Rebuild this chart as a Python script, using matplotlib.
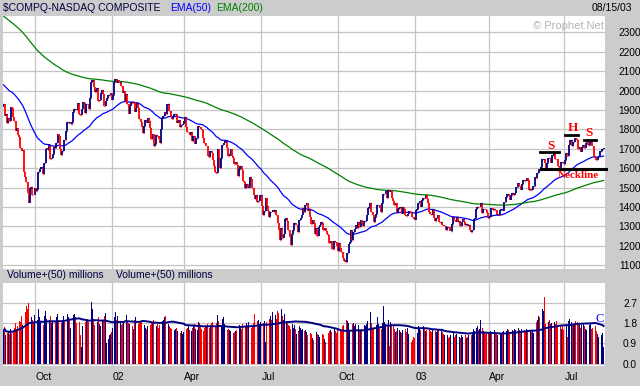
import numpy as np
import pandas as pd
import matplotlib.pyplot as plt

# daily closes of $COMPQ, 16 Aug 2001 - 15 Aug 2003 (one row per month)
closes = [
    1930, 1867, 1881, 1831, 1860, 1842, 1916, 1912, 1864, 1843, 1791, 1805,  # Aug 01
    1770, 1759, 1705, 1687, 1695, 1580, 1555, 1527, 1470, 1423, 1499, 1501, 1464, 1460, 1499,  # Sep
    1480, 1492, 1580, 1597, 1605, 1605, 1570, 1626, 1701, 1703, 1696, 1722, 1646, 1652, 1671,
    1708, 1704, 1731, 1775, 1768, 1699, 1668, 1690,  # Oct
    1746, 1745, 1793, 1836, 1837, 1827, 1828, 1840, 1892, 1903, 1900, 1898, 1934, 1880, 1875,
    1903, 1941, 1936, 1887, 1933, 1931,  # Nov
    1904, 1963, 2046, 2054, 2021, 1992, 2001, 2012, 1946, 1953, 1987, 2004, 1982, 1919, 1945,
    1960, 1977, 1977, 1987, 1950,  # Dec
    1979, 2044, 2059, 2037, 2055, 2044, 2047, 2022, 1990, 2000, 1945, 1984, 1930, 1882, 1922,
    1942, 1937, 1943, 1892, 1913, 1934,  # Jan 02
    1911, 1855, 1838, 1813, 1782, 1818, 1846, 1834, 1859, 1843, 1805, 1751, 1775, 1717, 1725,
    1769, 1767, 1751, 1731,  # Feb
    1802, 1859, 1867, 1890, 1881, 1929, 1929, 1897, 1862, 1855, 1868, 1877, 1880, 1832, 1842,
    1851, 1812, 1825, 1826, 1845,  # Mar
    1862, 1810, 1785, 1789, 1770, 1785, 1742, 1767, 1725, 1756, 1757, 1817, 1810, 1802, 1796,
    1758, 1730, 1713, 1713, 1664, 1657, 1688,  # Apr
    1677, 1644, 1613, 1578, 1573, 1697, 1650, 1600, 1652, 1719, 1730, 1741, 1741, 1702, 1664,
    1674, 1697, 1661, 1652, 1624, 1631, 1616,  # May
    1562, 1595, 1612, 1589, 1535, 1530, 1497, 1519, 1497, 1505, 1553, 1542, 1496, 1464, 1440,
    1460, 1424, 1429, 1460, 1463,  # Jun
    1403, 1357, 1380, 1448, 1405, 1381, 1346, 1374, 1373, 1382, 1375, 1383, 1356, 1319, 1282,
    1229, 1290, 1240, 1262, 1336, 1344, 1328,  # Jul
    1280, 1247, 1206, 1259, 1280, 1316, 1306, 1306, 1269, 1334, 1345, 1361, 1394, 1376, 1409,
    1422, 1381, 1392, 1347, 1314, 1335, 1315,  # Aug
    1263, 1292, 1252, 1295, 1305, 1320, 1315, 1280, 1292, 1275, 1259, 1253, 1216, 1222, 1184,
    1182, 1222, 1221, 1199, 1172,  # Sep
    1213, 1187, 1166, 1139, 1119, 1129, 1114, 1163, 1210, 1220, 1282, 1232, 1272, 1287, 1309,
    1292, 1320, 1299, 1331, 1315, 1300, 1326, 1330,  # Oct
    1360, 1396, 1401, 1419, 1376, 1359, 1320, 1349, 1362, 1411, 1412, 1393, 1374, 1419, 1467,
    1468, 1481, 1444, 1488, 1479,  # Nov
    1484, 1448, 1430, 1410, 1422, 1367, 1390, 1396, 1399, 1362, 1400, 1392, 1361, 1354, 1364,
    1381, 1373, 1367, 1348, 1339, 1335,  # Dec
    1384, 1388, 1421, 1431, 1401, 1438, 1448, 1446, 1461, 1439, 1423, 1376, 1365, 1360, 1389,
    1342, 1326, 1343, 1358, 1322, 1321,  # Jan 03
    1323, 1307, 1302, 1302, 1282, 1296, 1295, 1278, 1278, 1310, 1346, 1334, 1323, 1349, 1322,
    1328, 1303, 1323, 1337,  # Feb
    1320, 1305, 1314, 1303, 1305, 1279, 1271, 1279, 1340, 1341, 1392, 1400, 1398, 1402, 1421,
    1370, 1391, 1387, 1385, 1369, 1341,  # Mar
    1348, 1397, 1396, 1383, 1389, 1382, 1356, 1365, 1358, 1384, 1391, 1378, 1425, 1424, 1451,
    1466, 1458, 1434, 1462, 1472, 1464,  # Apr
    1472, 1502, 1504, 1523, 1506, 1489, 1520, 1541, 1540, 1535, 1551, 1538, 1490, 1492, 1490,
    1507, 1510, 1556, 1548, 1574, 1596,  # May
    1591, 1604, 1646, 1649, 1627, 1603, 1627, 1654, 1653, 1626, 1667, 1668, 1677, 1648, 1645,
    1611, 1606, 1602, 1634, 1625, 1623,  # Jun
    1640, 1678, 1663, 1720, 1747, 1747, 1715, 1733, 1754, 1753, 1747, 1698, 1708, 1682, 1707,
    1718, 1702, 1731, 1735, 1719, 1721, 1735,  # Jul
    1715, 1714, 1664, 1652, 1644, 1656, 1662, 1687, 1687, 1700, 1702,  # Aug 03
]
first_open = 1918

# daily volume, billions of shares
volumes = [
    1.45, 1.62, 1.25, 1.38, 1.42, 1.30, 1.55, 1.35, 1.48, 1.60, 1.80, 1.55,
    1.65, 1.90, 1.85, 2.10, 1.70, 2.45, 2.30, 2.55, 2.40, 2.70, 2.20, 2.05, 1.95, 1.85, 2.15,
    1.80, 1.95, 2.40, 2.05, 1.90, 1.60, 1.70, 2.10, 2.35, 2.00, 1.75, 1.95, 2.10, 1.80, 1.85,
    1.70, 1.90, 2.05, 2.20, 1.85, 1.75, 1.80, 1.95,
    2.10, 1.85, 1.90, 2.20, 2.05, 1.95, 1.60, 1.70, 2.15, 2.20, 2.05, 1.80, 1.95, 1.85, 1.25,
    0.75, 1.65, 1.90, 1.85, 1.95, 2.00,
    1.85, 2.20, 2.75, 2.40, 2.00, 1.70, 1.90, 1.85, 2.05, 1.75, 1.65, 1.95, 1.90, 2.10, 2.25,
    0.90, 1.10, 1.25, 1.30, 1.40,
    1.60, 2.05, 2.30, 1.95, 2.10, 2.00, 1.85, 1.70, 1.75, 1.80, 3.90, 2.15, 1.90, 1.80, 1.75,
    1.70, 1.65, 1.55, 1.95, 2.05, 1.85,
    1.75, 1.80, 1.85, 1.90, 1.95, 1.70, 1.60, 1.55, 1.65, 1.60, 1.70, 1.85, 1.80, 1.95, 1.70,
    1.65, 1.75, 1.60, 1.70,
    1.85, 1.90, 1.95, 2.05, 2.10, 2.15, 1.75, 1.65, 1.60, 1.55, 1.70, 1.50, 1.55, 1.60, 1.45,
    1.40, 1.35, 1.45, 1.30, 1.40,
    1.35, 1.55, 1.60, 1.70, 1.50, 1.45, 1.60, 1.70, 1.75, 1.55, 1.50, 1.85, 1.80, 1.70, 1.55,
    1.45, 1.60, 1.70, 1.65, 1.75, 1.60, 1.70,
    1.80, 1.85, 1.75, 1.65, 1.80, 2.15, 1.90, 1.70, 1.65, 2.00, 2.05, 1.75, 1.70, 1.50, 1.55,
    1.50, 1.45, 1.25, 1.35, 1.40, 1.45, 1.50,
    1.55, 1.70, 1.60, 1.55, 1.75, 1.50, 1.65, 1.80, 1.70, 1.85, 1.75, 1.60, 1.65, 1.80, 2.20,
    1.70, 1.90, 1.95, 1.75, 1.85,
    3.05, 1.80, 1.90, 0.95, 1.85, 1.80, 2.00, 2.10, 1.95, 2.30, 2.05, 2.15, 2.00, 2.35, 2.25,
    2.85, 2.40, 2.10, 1.95, 2.20, 1.90, 1.80,
    1.70, 1.65, 1.55, 1.75, 1.60, 1.70, 1.55, 1.30, 1.45, 1.65, 1.60, 1.50, 1.55, 1.45, 1.50,
    1.40, 1.25, 1.20, 1.35, 1.30, 1.15, 1.05,
    1.35, 1.40, 1.30, 1.25, 1.20, 1.35, 1.30, 1.25, 1.10, 0.95, 1.40, 1.35, 1.45, 1.50, 1.40,
    1.55, 1.60, 1.45, 1.35, 1.50,
    1.60, 1.55, 1.50, 1.65, 1.70, 1.85, 1.95, 1.90, 1.80, 1.45, 1.95, 1.75, 1.80, 1.65, 1.75,
    1.55, 1.70, 1.50, 1.45, 1.55, 1.60, 1.70, 1.65,
    1.75, 1.90, 1.85, 2.30, 1.80, 1.60, 1.55, 1.65, 1.70, 2.05, 1.75, 1.60, 1.55, 1.80, 2.55,
    1.85, 1.75, 1.70, 1.95, 0.80,
    1.85, 1.75, 1.70, 1.55, 1.40, 1.45, 1.60, 1.50, 1.40, 1.35, 1.50, 1.45, 1.55, 1.40, 1.60,
    1.30, 0.60, 0.95, 1.05, 1.20, 1.15,
    1.30, 1.35, 1.65, 1.60, 1.50, 1.70, 1.65, 1.55, 1.45, 1.50, 1.55, 1.60, 1.45, 1.40, 1.50,
    1.55, 1.45, 1.40, 1.50, 1.55, 1.60,
    1.45, 1.40, 1.30, 1.25, 1.20, 1.25, 1.15, 1.20, 1.25, 1.30, 1.35, 1.20, 1.25, 1.30, 1.15,
    1.20, 1.15, 1.25, 1.20,
    1.20, 1.25, 1.15, 1.20, 1.25, 1.20, 1.25, 1.30, 1.55, 1.45, 1.60, 1.65, 1.50, 1.55, 1.95,
    1.60, 1.45, 1.35, 1.30, 1.35, 1.40,
    1.35, 1.45, 1.40, 1.35, 1.50, 1.30, 1.35, 1.25, 1.20, 1.30, 1.35, 1.40, 1.45, 1.35, 1.45,
    1.55, 1.50, 1.40, 1.45, 1.50, 1.45,
    1.55, 1.50, 1.45, 1.60, 1.50, 1.45, 1.55, 1.65, 1.50, 1.45, 1.55, 1.50, 1.65, 1.45, 1.40,
    1.50, 1.35, 1.70, 1.85, 1.95, 2.10,
    2.05, 2.15, 2.40, 2.35, 2.95, 1.75, 1.80, 1.85, 1.95, 1.75, 1.80, 2.00, 1.85, 1.75, 1.90,
    1.70, 1.60, 1.65, 1.55, 1.70, 1.50,
    1.55, 1.75, 1.20, 1.90, 2.00, 1.85, 1.75, 1.70, 1.80, 1.90, 1.85, 1.80, 1.70, 1.60, 1.70,
    1.75, 1.65, 1.55, 1.50, 1.60, 1.70, 1.75,
    1.55, 1.60, 1.70, 1.65, 1.45, 1.30, 1.20, 1.35, 1.25, 1.35, 0.75,
]

# trading days per month, Aug 01 .. Aug 03
month_days = [12, 15, 23, 21, 20, 21, 19, 20, 22, 22, 20, 22, 22,
              20, 23, 20, 21, 21, 19, 21, 21, 21, 21, 22, 11]
month_names = ['Aug', 'Sep', 'Oct', 'Nov', 'Dec', '02', 'Feb', 'Mar', 'Apr', 'May', 'Jun',
               'Jul', 'Aug', 'Sep', 'Oct', 'Nov', 'Dec', '03', 'Feb', 'Mar', 'Apr', 'May',
               'Jun', 'Jul', 'Aug']
tick_labels = ['Oct', '02', 'Apr', 'Jul', 'Oct', '03', 'Apr', 'Jul']

ema50_start = 2030    # at the first bar
ema200_start = 2385

# head & shoulders marks: (first day, last day, price)
hs_lines = [(446, 462, 1681), (467, 478, 1773), (483, 493, 1747)]
neckline = (447, 501, 1597)
hs_text = [('S', 455, 1712), ('H', 473.5, 1808), ('S', 487, 1782)]

closes = np.array(closes, dtype=float)
volumes = np.array(volumes)
n = len(closes)
x = np.arange(n)

starts = np.r_[0, np.cumsum(month_days)[:-1]]
tick_pos = [s - 0.5 for s, m in zip(starts, month_names) if m in ('Oct', '02', 'Apr', 'Jul', '03')]

opens = np.r_[first_open, closes[:-1]]
up = closes >= opens
col = np.where(up, '#000080', '#ff0000')


def ema(vals, span, seed):
    k = 2.0 / (span + 1)
    out = np.empty(len(vals))
    out[0] = seed
    for i in range(1, len(vals)):
        out[i] = out[i - 1] + k * (vals[i] - out[i - 1])
    return out


ema50 = ema(closes, 50, ema50_start)
ema200 = ema(closes, 200, ema200_start)
vol_avg = pd.Series(volumes).rolling(50, min_periods=1).mean().values

bg = '#cccccc'
grid = '#c4c4c4'
font = 'Liberation Sans'
plt.rcParams['font.family'] = [font, 'DejaVu Sans']

fig = plt.figure(figsize=(6.4, 3.86), dpi=100, facecolor=bg)
ax = fig.add_axes([3 / 640, 117 / 386, 602 / 640, 253 / 386])
axv = fig.add_axes([3 / 640, 20 / 386, 602 / 640, 83 / 386])

# price bars
ax.vlines(x, np.minimum(opens, closes), np.maximum(opens, closes), colors=col, lw=1.3, zorder=3)
ax.hlines(closes, x, x + 0.6, colors=col, lw=1.0, zorder=3)
ax.plot(x, ema50, color='#0000ff', lw=0.9, zorder=2)
ax.plot(x, ema200, color='#008000', lw=0.9, zorder=2)

for x0, x1, y in hs_lines:
    ax.plot([x0, x1], [y, y], color='black', lw=2, zorder=4)
ax.plot(neckline[:2], [neckline[2]] * 2, color='black', lw=2.2, zorder=4, clip_on=False)
for t, tx, ty in hs_text:
    ax.text(tx, ty, t, color='red', family='Liberation Serif', weight='bold', fontsize=9.5,
            ha='center', va='center', zorder=5)
ax.text(478, 1562, 'Neckline', color='red', family='Liberation Serif', weight='bold',
        fontsize=8, ha='center', va='center', zorder=5)

ax.set_xlim(-0.4, 500.2)
ax.set_ylim(1080, 2385)
ax.set_xticks(tick_pos)
ax.set_yticks(range(1100, 2301, 100))
ax.grid(color=grid, lw=0.9, zorder=0)
ax.tick_params(axis='x', length=0, labelbottom=False)
ax.tick_params(axis='y', length=0, labelleft=False, labelright=True, labelsize=7.3, pad=18)
for lab in ax.get_yticklabels():
    lab.set_horizontalalignment('center')
for s in ax.spines.values():
    s.set_visible(False)

# volume
axv.bar(x, volumes, width=0.7, color=col, lw=0, zorder=2)
axv.plot(x, vol_avg, color='#000080', lw=1.4, zorder=3)
axv.text(496, 2.0, 'C', color='#0000ff', family='Liberation Serif', fontsize=9,
         ha='center', va='center', zorder=4)
axv.set_xlim(-0.4, 500.2)
axv.set_ylim(-0.1, 3.57)
axv.set_yticks([0, 0.9, 1.8, 2.7])
axv.set_yticklabels(['0.0', '0.9', '1.8', '2.7'])
axv.set_xticks(tick_pos)
axv.set_xticklabels(tick_labels)
axv.grid(color=grid, lw=0.9, zorder=0)
axv.tick_params(axis='x', length=0, labelsize=7.5, pad=4)
axv.tick_params(axis='y', length=0, labelleft=False, labelright=True, labelsize=7.3, pad=18)
for lab in axv.get_xticklabels():
    lab.set_horizontalalignment('left')
for lab in axv.get_yticklabels():
    lab.set_horizontalalignment('center')
for s in axv.spines.values():
    s.set_visible(False)

# header texts
fig.text(3 / 640, 1 - 8 / 386, '$COMPQ-NASDAQ COMPOSITE', color='#000040', fontsize=7.5, va='center')
fig.text(170 / 640, 1 - 8 / 386, 'EMA(50)', color='#0000ff', fontsize=7.5, va='center')
fig.text(216 / 640, 1 - 8 / 386, 'EMA(200)', color='#008000', fontsize=7.5, va='center')
fig.text(632 / 640, 1 - 8 / 386, '08/15/03', color='black', fontsize=7.5, va='center', ha='right')
fig.text(604 / 640, 1 - 26 / 386, '\u00a9 Prophet.Net', color='#b4b4b4', fontsize=8,
         va='center', ha='right')
fig.text(7 / 640, 1 - 275 / 386, 'Volume+(50) millions', color='#000040', fontsize=7.5, va='center')
fig.text(116 / 640, 1 - 275 / 386, 'Volume+(50) millions', color='#000040', fontsize=7.5, va='center')

fig.savefig('out.png', dpi=100, facecolor=bg)
